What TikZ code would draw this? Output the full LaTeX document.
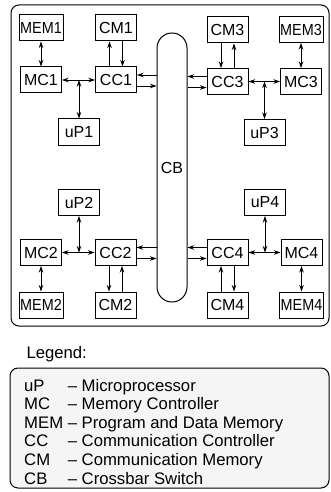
\documentclass[tikz,border=0pt]{standalone}
\usepackage{fontspec}
\setmainfont{Liberation Sans}
\usepackage{graphicx}
\usetikzlibrary{arrows.meta,positioning,calc}
\newcommand{\memtext}[1]{\scalebox{0.9}[1]{#1}}

\begin{document}
\begin{tikzpicture}[x=1pt, y=-1pt,
  >={Stealth[length=6.5pt,width=4.5pt]},
  every node/.style={font=\fontsize{16}{18}\selectfont},
  unit/.style={draw, line width=1pt, minimum width=41pt,
    minimum height=26pt, inner sep=0pt},
  memunit/.style={unit, minimum width=44pt},
  link/.style={line width=0.8pt},
  frame/.style={draw, line width=1pt, rounded corners=8pt}]
\useasboundingbox (0,0) rectangle (330,492);
% frames
\draw[frame] (11,5) rectangle (329,326);
\draw[frame, fill=gray!8] (10,368) rectangle (329,488);
% crossbar
\node[draw, line width=1pt, rounded corners=15pt, minimum width=30pt,
      minimum height=269pt] (CB) at (172,167.5) {CB};
% upper half
\node[memunit] (MEM1) at (41,28)   {\memtext{MEM1}};
\node[unit]    (CM1)  at (116,28)  {CM1};
\node[unit]    (MC1)  at (41,80)   {MC1};
\node[unit]    (CC1)  at (116,80)  {CC1};
\node[unit]    (uP1)  at (79,132)  {uP1};
\node[unit]    (CM3)  at (227.5,30) {CM3};
\node[memunit] (MEM3) at (301,29.5) {\memtext{MEM3}};
\node[unit]    (CC3)  at (227.5,81.5) {CC3};
\node[unit]    (MC3)  at (301,81.5) {MC3};
\node[unit]    (uP3)  at (264.5,132.5) {uP3};
% lower half
\node[unit]    (uP2)  at (79,202.5)  {uP2};
\node[unit]    (MC2)  at (41,252.5)  {MC2};
\node[unit]    (CC2)  at (115.5,252.5) {CC2};
\node[memunit] (MEM2) at (41,305)    {\memtext{MEM2}};
\node[unit]    (CM2)  at (115.5,305) {CM2};
\node[unit]    (uP4)  at (265,202.5)  {uP4};
\node[unit]    (CC4)  at (227.5,252.5) {CC4};
\node[unit]    (MC4)  at (301.5,252.5) {MC4};
\node[unit]    (CM4)  at (227.5,305) {CM4};
\node[memunit] (MEM4) at (301.5,305) {\memtext{MEM4}};
% junctions and crossbar ends
\foreach \i in {1,...,4} {
  \coordinate (j\i) at (uP\i |- MC\i);}
\foreach \i/\s/\t in {1/west/east, 2/west/east, 3/east/west, 4/east/west} {
  \coordinate (cb\i) at (CB.\s |- CC\i.\t);}
% connectors
\foreach \i in {1,...,4} {
  \draw[link, <->] (MEM\i) -- (MC\i);
  \draw[link, <->] (MC\i) -- (CC\i);
  \draw[link, <->] (j\i) -- (uP\i);}
\foreach \i/\p/\q/\a/\b in {1/-6.5/6.5/north/south, 3/6.5/-6.5/north/south,
    2/-6.5/6.5/south/north, 4/6.5/-6.5/south/north} {
  \draw[link, ->] ([xshift=\p pt]CC\i.\a) -- ([xshift=\p pt]CM\i.\b);
  \draw[link, ->] ([xshift=\q pt]CM\i.\b) -- ([xshift=\q pt]CC\i.\a);}
\foreach \l/\r in {CC1.east/cb1, CC2.east/cb2, cb3/CC3.west, cb4/CC4.west} {
  \draw[link, <-] ([yshift=5pt]\l) -- ([yshift=5pt]\r);
  \draw[link, ->] ([yshift=-6pt]\l) -- ([yshift=-6pt]\r);}
% legend
\node[anchor=base west, font=\fontsize{16.7}{18.6}\selectfont] (legtitle)
  at (23,358) {Legend:};
\node[anchor=base west, inner sep=0pt, font=\fontsize{16.7}{18.6}\selectfont]
  (legend) at (24,391) {\begin{tabular}[t]{@{}l@{ }l@{}}
  uP  & -- Microprocessor\\
  MC  & -- Memory Controller\\
  MEM & -- Program and Data Memory\\
  CC  & -- Communication Controller\\
  CM  & -- Communication Memory\\
  CB  & -- Crossbar Switch
  \end{tabular}};
\end{tikzpicture}
\end{document}
